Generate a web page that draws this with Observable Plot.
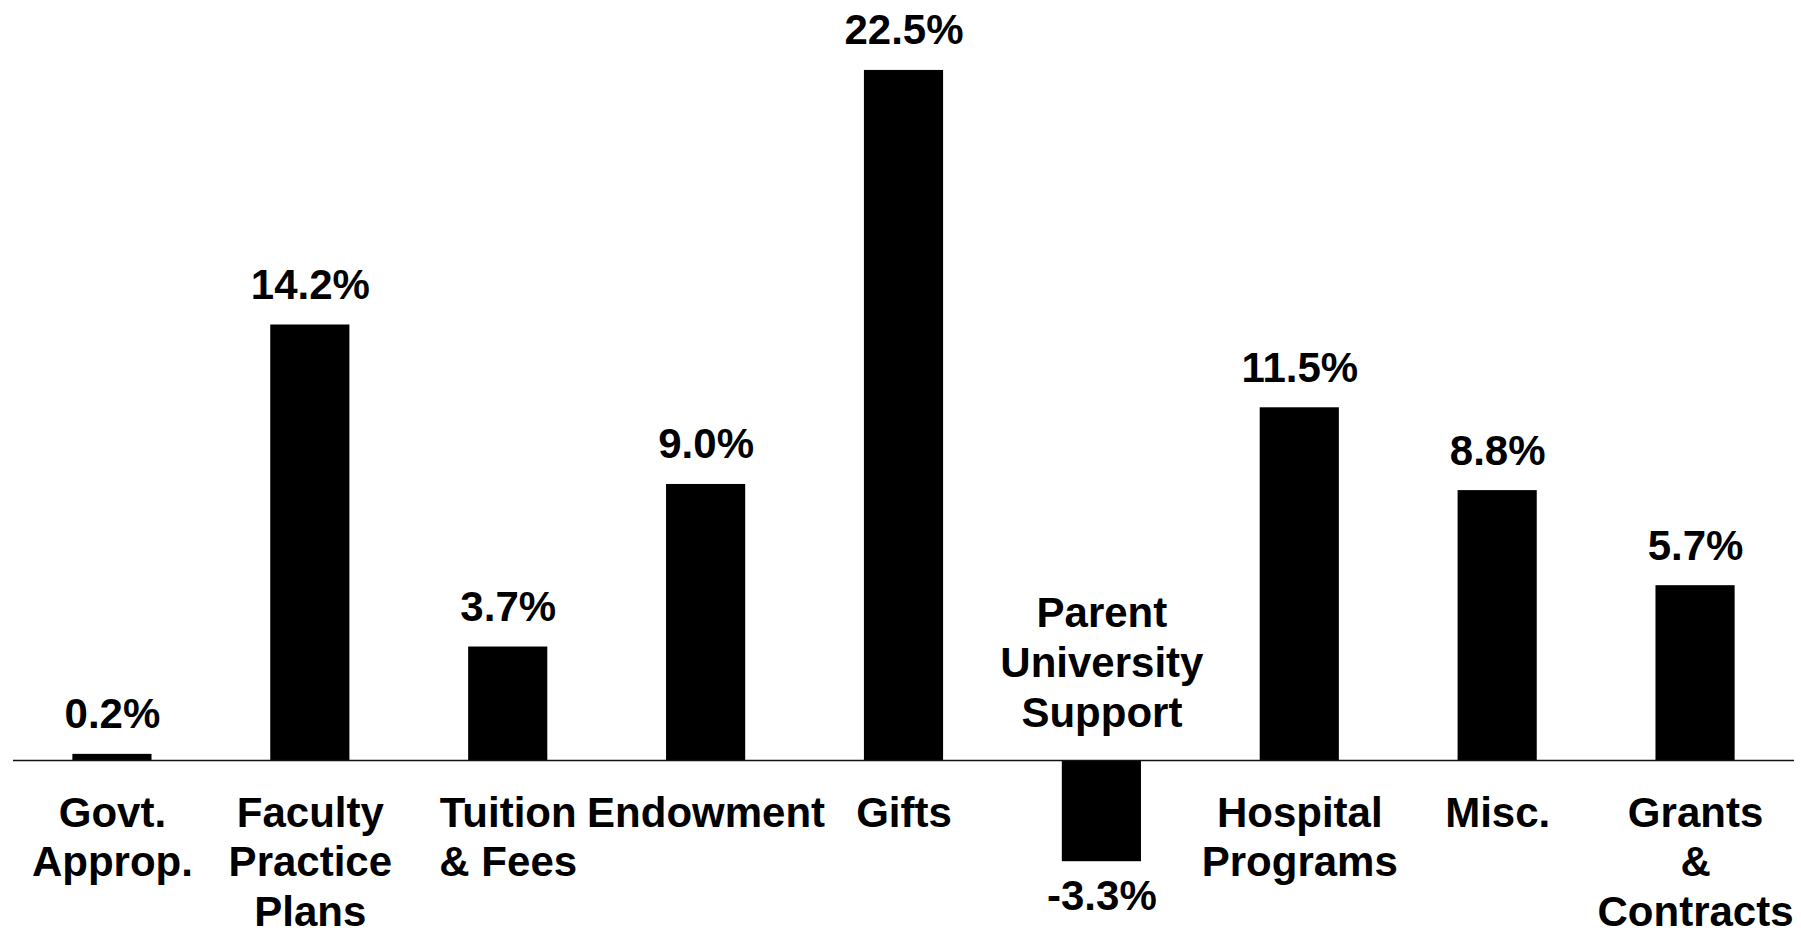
<!DOCTYPE html>
<html>
<head>
<meta charset="utf-8">
<script src="https://cdn.jsdelivr.net/npm/d3@7"></script>
<script src="https://cdn.jsdelivr.net/npm/@observablehq/plot@0.6"></script>
<style>
  html, body { margin: 0; padding: 0; background: #fff; }
  #chart svg { display: block; }
</style>
</head>
<body>
<div id="chart"></div>
<script>
const categories = [
  "Govt.\nApprop.",
  "Faculty\nPractice\nPlans",
  "Tuition\n& Fees",
  "Endowment",
  "Gifts",
  "Parent\nUniversity\nSupport",
  "Hospital\nPrograms",
  "Misc.",
  "Grants\n&\nContracts"
];
const values = [0.2, 14.2, 3.7, 9.0, 22.5, -3.3, 11.5, 8.8, 5.7];
const valueLabels = ["0.2%", "14.2%", "3.7%", "9.0%", "22.5%", "-3.3%", "11.5%", "8.8%", "5.7%"];

const data = categories.map((c, i) => ({cat: c, value: values[i], label: valueLabels[i]}));
const pos = data.filter(d => d.value >= 0);
const neg = data.filter(d => d.value < 0);

const font = "Liberation Sans, Arial, Helvetica, sans-serif";
const fs = 42;

const chart = Plot.plot({
  width: 1801,
  height: 935,
  marginLeft: 13,
  marginRight: 7,
  marginTop: 0,
  marginBottom: 0,
  style: {fontFamily: font, background: "#fff"},
  x: {domain: categories, paddingInner: 0.6, paddingOuter: 0.3, round: false, axis: null},
  y: {domain: [-5.706, 24.78], axis: null},
  marks: [
    Plot.barY(data, {x: "cat", y: "value", fill: "#000"}),
    Plot.ruleY([0], {stroke: "#111", strokeWidth: 1.6}),
    // value labels
    Plot.text(pos, {x: "cat", y: "value", text: "label", lineAnchor: "bottom", dy: -26,
      fontSize: fs, fontWeight: "bold", fill: "#000"}),
    Plot.text(neg, {x: "cat", y: "value", text: "label", lineAnchor: "top", dy: 18,
      fontSize: fs, fontWeight: "bold", fill: "#000"}),
    // category labels
    Plot.text(pos, {x: "cat", y: 0, text: "cat", lineAnchor: "top", dy: 31, lineHeight: 1.18,
      fontSize: fs, fontWeight: "bold", fill: "#000"}),
    Plot.text(neg, {x: "cat", y: 0, text: "cat", lineAnchor: "bottom", dy: -33, lineHeight: 1.2,
      fontSize: fs, fontWeight: "bold", fill: "#000"})
  ]
});
document.getElementById("chart").appendChild(chart);
</script>
</body>
</html>
